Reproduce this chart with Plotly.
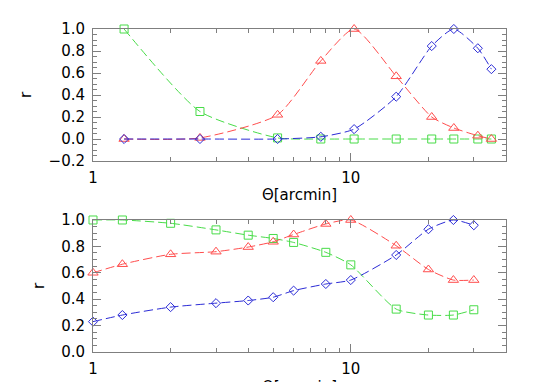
import plotly.graph_objects as go

# ---- data ----
theta_top = [1.32, 2.6, 5.2, 7.65, 10.3, 15.0, 20.6, 25.1, 31.1, 35.1]
red_top = [0.0, 0.01, 0.22, 0.71, 1.0, 0.57, 0.20, 0.10, 0.03, 0.0]
blue_top = [0.0, 0.0, 0.0, 0.02, 0.09, 0.385, 0.845, 1.0, 0.825, 0.635]
green_top = [1.0, 0.25, 0.01, 0.0, 0.0, 0.0, 0.0, 0.0, 0.0, 0.0]

theta_bot = [1, 1.3, 2, 3, 4, 5, 6, 8, 10, 15, 20, 25, 30]
red_bot = [0.60, 0.665, 0.74, 0.76, 0.795, 0.835, 0.89, 0.97, 1.0, 0.805, 0.625, 0.545, 0.545]
blue_bot = [0.23, 0.28, 0.34, 0.37, 0.39, 0.415, 0.465, 0.515, 0.545, 0.735, 0.93, 1.0, 0.96]
green_bot = [1.0, 1.0, 0.975, 0.925, 0.885, 0.86, 0.83, 0.755, 0.66, 0.325, 0.28, 0.28, 0.32]

x_title = "Θ[arcmin]"
y_title = "r"
x_tickvals = [1, 10]
x_ticktext = ["1", "10"]
x_minor = [2, 3, 4, 5, 6, 7, 8, 9, 20, 30, 40]
yt_top = [-0.2, 0.0, 0.2, 0.4, 0.6, 0.8, 1.0]
yt_bot = [0.0, 0.2, 0.4, 0.6, 0.8, 1.0]

RED = "#ff4d4d"
GREEN = "#48dc48"
BLUE = "#2b2bd6"
FONT = "DejaVu Sans"
AXC = "#7f7f7f"
DASH = "9px,4px"

fig = go.Figure()

def add(x, y, color, symbol, size, xa, ya):
    fig.add_trace(go.Scatter(
        x=x, y=y, mode="lines+markers", xaxis=xa, yaxis=ya,
        line=dict(color=color, width=1, dash=DASH, shape="spline", smoothing=0.6),
        marker=dict(symbol=symbol, size=size, color=color,
                    line=dict(color=color, width=1)),
        showlegend=False, cliponaxis=False, hoverinfo="skip"))

add(theta_top, green_top, GREEN, "square-open", 8, "x", "y")
add(theta_top, red_top, RED, "triangle-up-open", 9, "x", "y")
add(theta_top, blue_top, BLUE, "diamond-open", 7, "x", "y")
add(theta_bot, green_bot, GREEN, "square-open", 8, "x2", "y2")
add(theta_bot, red_bot, RED, "triangle-up-open", 9, "x2", "y2")
add(theta_bot, blue_bot, BLUE, "diamond-open", 7, "x2", "y2")

def xaxis(anchor, with_title=True):
    d = dict(
        type="log", range=[0, 1.602], anchor=anchor, automargin=False,
        tickmode="array", tickvals=x_tickvals, ticktext=x_ticktext,
        ticks="inside", ticklen=8, tickcolor=AXC, tickwidth=1,
        minor=dict(tickmode="array", tickvals=x_minor, ticks="inside",
                   ticklen=4, tickcolor=AXC, showgrid=False),
        showline=True, linecolor=AXC, linewidth=1, mirror="allticks",
        showgrid=False, zeroline=False,
        tickfont=dict(family=FONT, size=15, color="black"),
        ticklabelstandoff=3,
    )
    if with_title:
        d["title"] = dict(text=x_title, font=dict(family=FONT, size=15, color="black"),
                          standoff=3)
    return d

def yaxis(anchor, rng, tv, dom):
    return dict(
        range=rng, domain=dom, anchor=anchor, automargin=False,
        tickmode="array", tickvals=tv, ticktext=[f"{v:.1f}".replace("-", "\u2212") for v in tv],
        ticks="inside", ticklen=8, tickcolor=AXC, tickwidth=1,
        minor=dict(dtick=0.05, tick0=0, ticks="inside", ticklen=4,
                   tickcolor=AXC, showgrid=False),
        showline=True, linecolor=AXC, linewidth=1, mirror="allticks",
        showgrid=False, zeroline=False,
        tickfont=dict(family=FONT, size=15, color="black"),
        ticklabelstandoff=4,
        title=dict(text=y_title, font=dict(family=FONT, size=16, color="black"),
                   standoff=12),
    )

fig.update_layout(
    width=534, height=382,
    margin=dict(l=93, r=28, t=29, b=30),
    paper_bgcolor="white", plot_bgcolor="white",
    showlegend=False,
    xaxis=xaxis("y"),
    yaxis=yaxis("x", [-0.2, 1.0], yt_top, [0.5913, 1.0]),
    xaxis2=xaxis("y2", with_title=False),
    yaxis2=yaxis("x2", [0.0, 1.0], yt_bot, [0.0, 0.4087]),
)

# bottom panel x title sits at the lower page edge (cut off in the reference)
fig.add_annotation(text=x_title, xref="x2 domain", yref="paper", x=0.5, y=-0.074,
                   xanchor="center", yanchor="top", showarrow=False,
                   font=dict(family=FONT, size=15, color="black"))

fig.write_html("out.html", config={"displayModeBar": False},
               post_script="document.body.style.margin='0';document.body.style.overflow='hidden';")
